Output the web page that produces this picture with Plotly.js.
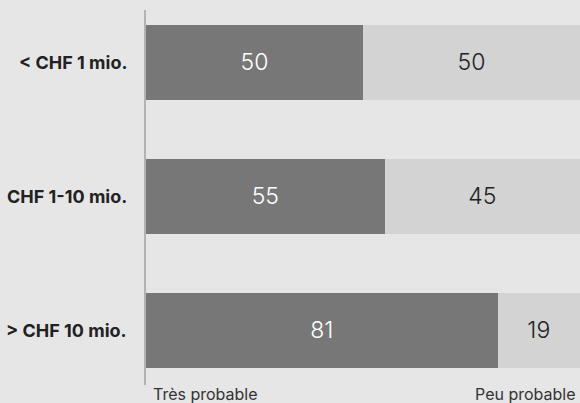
<!DOCTYPE html>
<html><head><meta charset="utf-8">
<script src="https://cdn.plot.ly/plotly-3.0.1.min.js"></script>
<style>html,body{margin:0;padding:0;background:#e6e6e6;}</style>
</head><body>
<div id="chart" style="width:580px;height:403px;"></div>
<script>
const categories = ["< CHF 1 mio.", "CHF 1-10 mio.", "> CHF 10 mio."];
const tresProbable = [50, 55, 81];
const peuProbable = [50, 45, 19];
const leftLabel = "Très probable";
const rightLabel = "Peu probable";

const font = "Inter, 'Noto Sans', sans-serif";

const traces = [
  {type:'bar', orientation:'h', y:categories, x:tresProbable, width:0.56,
   marker:{color:'#777777'}, text:tresProbable.map(String), textposition:'inside',
   insidetextanchor:'middle', constraintext:'none', textfont:{color:'#ffffff', size:23, family:font, weight:300},
   hoverinfo:'none'},
  {type:'bar', orientation:'h', y:categories, x:peuProbable, width:0.56,
   marker:{color:'#d3d3d3'}, text:peuProbable.map(String), textposition:'inside',
   insidetextanchor:'middle', constraintext:'none', textfont:{color:'#222222', size:23, family:font, weight:300},
   hoverinfo:'none'}
];

const layout = {
  width:580, height:403,
  margin:{l:146, r:0, t:10, b:18},
  paper_bgcolor:'#e6e6e6', plot_bgcolor:'#e6e6e6',
  barmode:'stack', showlegend:false,
  xaxis:{range:[0, 100], showgrid:false, zeroline:false, showticklabels:false, fixedrange:true},
  yaxis:{type:'category', range:[2.41, -0.39], showgrid:false, zeroline:false,
         showline:true, linecolor:'#b3b3b3', linewidth:2, showticklabels:false, fixedrange:true},
  annotations: categories.map((c,i)=>({
      xref:'paper', x:0, xshift:-17, xanchor:'right', yref:'y', y:c, yanchor:'middle',
      text:'<b>'+c+'</b>', showarrow:false, font:{family:font, size:18, color:'#222222'}
    })).concat([
      {xref:'paper', x:0, xshift:5, xanchor:'left', yref:'paper', y:0, yshift:3, yanchor:'top',
       text:leftLabel, showarrow:false, font:{family:font, size:16, color:'#333333'}},
      {xref:'paper', x:1, xshift:-2, xanchor:'right', yref:'paper', y:0, yshift:3, yanchor:'top',
       text:rightLabel, showarrow:false, font:{family:font, size:16, color:'#333333'}}
  ])
};
Plotly.newPlot('chart', traces, layout, {displayModeBar:false, staticPlot:true});
</script>
</body></html>
